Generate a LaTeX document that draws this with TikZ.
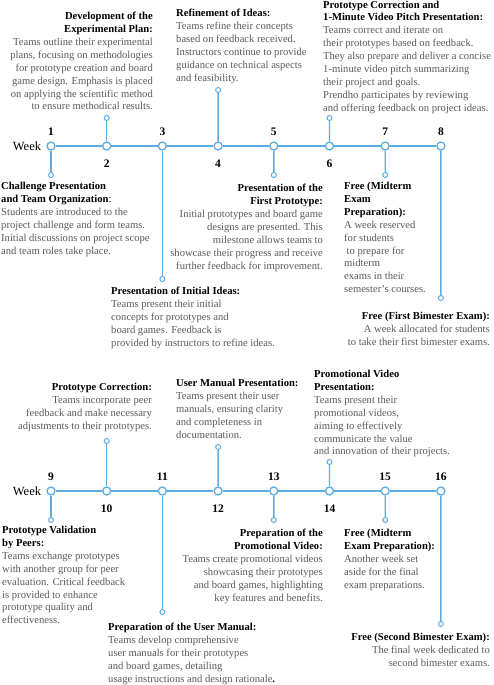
\documentclass[tikz,border=0pt]{standalone}
\usepackage{fontspec}
\setmainfont{Liberation Serif}
\definecolor{tlblue}{RGB}{93,173,226}
\definecolor{bodygrey}{RGB}{90,90,90}
\newcommand{\ttl}[1]{{\color{black}\bfseries #1}}
\begin{document}
\begin{tikzpicture}[x=1pt,y=-1pt,
 bigdot/.style={circle,draw=tlblue,fill=white,line width=1.3pt,minimum size=8pt,inner sep=0},
 enddot/.style={circle,draw=tlblue,fill=white,line width=1pt,minimum size=5pt,inner sep=0},
 tl/.style={draw=tlblue,line width=1.4pt},
 num/.style={font=\fontsize{11.5}{13}\selectfont\bfseries,inner sep=0},
 wk/.style={font=\fontsize{12.5}{14}\selectfont,inner sep=0},
 blk/.style={font=\fontsize{10.6}{12.9}\selectfont,text=bodygrey,inner sep=0},
 blkl/.style={blk,align=left,anchor=north west},
 blkr/.style={blk,align=right,anchor=north east},
]
\useasboundingbox (0,0) rectangle (493,685);

% timeline nodes
\foreach \i in {1,...,8} { \node[bigdot] (w\i) at ({51+(\i-1)*55.7},146) {}; }
\foreach \i in {9,...,16} { \node[bigdot] (w\i) at ({51+(\i-9)*55.7},491) {}; }

% end dots
\node[enddot] (e1) at (51,175) {};
\node[enddot] (e2) at (106.7,118) {};
\node[enddot] (e3) at (162.4,279) {};
\node[enddot] (e4) at (218.1,90) {};
\node[enddot] (e5) at (273.8,175) {};
\node[enddot] (e6) at (329.5,118) {};
\node[enddot] (e7) at (385.2,175) {};
\node[enddot] (e8) at (440.9,298) {};
\node[enddot] (e9) at (51,520) {};
\node[enddot] (e10) at (106.7,441) {};
\node[enddot] (e11) at (162.4,612) {};
\node[enddot] (e12) at (218.1,447) {};
\node[enddot] (e13) at (273.8,520) {};
\node[enddot] (e14) at (329.5,462) {};
\node[enddot] (e15) at (385.2,520) {};
\node[enddot] (e16) at (440.9,624) {};

% lines
\draw[tl] (w1) -- (w2) -- (w3) -- (w4) -- (w5) -- (w6) -- (w7) -- (w8);
\draw[tl] (w9) -- (w10) -- (w11) -- (w12) -- (w13) -- (w14) -- (w15) -- (w16);
\foreach \i in {1,...,16} { \draw[tl] (w\i) -- (e\i); }

% week labels
\node[wk] (wkA) at (27,146) {Week};
\node[wk] (wkB) at (27,491) {Week};

% numbers
\foreach \i in {1,3,5,7} { \node[num] (n\i) at ({51+(\i-1)*55.7},132) {\i}; }
\foreach \i in {2,4,6,8} { \ifnum\i=8 \node[num] (n\i) at ({51+(\i-1)*55.7},132) {\i}; \else \node[num] (n\i) at ({51+(\i-1)*55.7},164) {\i}; \fi }
\foreach \i in {9,11,13,15,16} { \node[num] (n\i) at ({51+(\i-9)*55.7},477) {\i}; }
\foreach \i in {10,12,14} { \node[num] (n\i) at ({51+(\i-9)*55.7},509) {\i}; }

% text blocks, row 1
\node[blkr] (b1) at (153,12) {\ttl{Development of the}\\ \ttl{Experimental Plan:}\\
Teams outline their experimental\\ plans, focusing on methodologies\\ for prototype creation and board\\ game design. Emphasis is placed\\ on applying the scientific method\\ to ensure methodical results.};
\node[blkl] (b2) at (176,9) {\ttl{Refinement of Ideas:}\\ Teams refine their concepts\\ based on feedback received.\\ Instructors continue to provide\\ guidance on technical aspects\\ and feasibility.};
\node[blkl] (b3) at (323,0.5) {\ttl{Prototype Correction and}\\ \ttl{1-Minute Video Pitch Presentation:}\\ Teams correct and iterate on\\ their prototypes based on feedback.\\ They also prepare and deliver a concise\\ 1-minute video pitch summarizing\\ their project and goals.\\ Prendho participates by reviewing\\ and offering feedback on project ideas.};
\node[blkl] (b4) at (1,182) {\ttl{Challenge Presentation}\\ \ttl{and Team Organization}{\color{black}:}\\ Students are introduced to the\\ project challenge and form teams.\\ Initial discussions on project scope\\ and team roles take place.};
\node[blkl] (b5) at (111,287) {\ttl{Presentation of Initial Ideas:}\\ Teams present their initial\\ concepts for prototypes and\\ board games. Feedback is\\ provided by instructors to refine ideas.};
\node[blkr] (b6) at (323,184) {\ttl{Presentation of the}\\ \ttl{First Prototype:}\\ Initial prototypes and board game\\ designs are presented. This\\ milestone allows teams to\\ showcase their progress and receive\\ further feedback for improvement.};
\node[blkl] (b7) at (344,182) {\ttl{Free (Midterm}\\ \ttl{Exam}\\ \ttl{Preparation):}\\ A week reserved\\ for students\\ \hspace*{2.5pt}to prepare for\\ midterm\\ exams in their\\ semester's courses.};
\node[blkr] (b8) at (490,312) {\ttl{Free (First Bimester Exam):}\\ A week allocated for students\\ to take their first bimester exams.};

% text blocks, row 2
\node[blkr] (b9) at (152,383) {\ttl{Prototype Correction:}\\ Teams incorporate peer\\ feedback and make necessary\\ adjustments to their prototypes.};
\node[blkl] (b10) at (176,379) {\ttl{User Manual Presentation:}\\ Teams present their user\\ manuals, ensuring clarity\\ and completeness in\\ documentation.};
\node[blkl] (b11) at (314,370) {\ttl{Promotional Video}\\ \ttl{Presentation:}\\ Teams present their\\ promotional videos,\\ aiming to effectively\\ communicate the value\\ and innovation of their projects.};
\node[blkl] (b12) at (2,526) {\ttl{Prototype Validation}\\ \ttl{by Peers:}\\ Teams exchange prototypes\\ with another group for peer\\ evaluation. Critical feedback\\ is provided to enhance\\ prototype quality and\\ effectiveness.};
\node[blkl] (b13) at (108,623) {\ttl{Preparation of the User Manual:}\\ Teams develop comprehensive\\ user manuals for their prototypes\\ and board games, detailing\\ usage instructions and design rationale{\color{black}\bfseries .}};
\node[blkr] (b14) at (323,529) {\ttl{Preparation of the}\\ \ttl{Promotional Video:}\\ Teams create promotional videos\\ showcasing their prototypes\\ and board games, highlighting\\ key features and benefits.};
\node[blkl] (b15) at (344,529) {\ttl{Free (Midterm}\\ \ttl{Exam Preparation):}\\ Another week set\\ aside for the final\\ exam preparations.};
\node[blkr] (b16) at (490,633) {\ttl{Free (Second Bimester Exam):}\\ The final week dedicated to\\ second bimester exams.};
\end{tikzpicture}
\end{document}
